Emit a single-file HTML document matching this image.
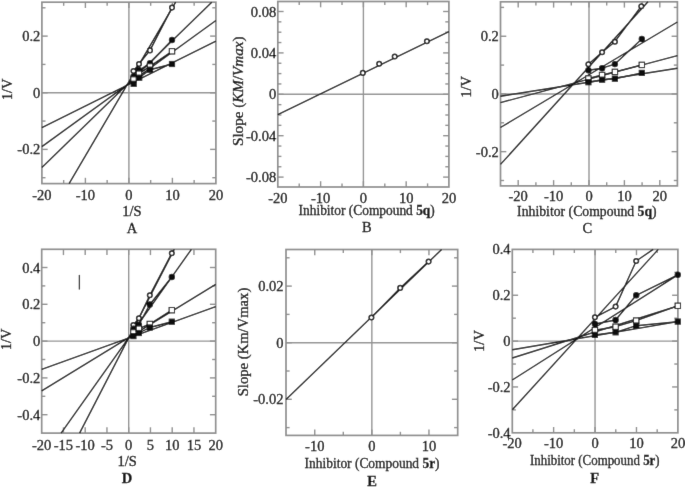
<!DOCTYPE html>
<html><head><meta charset="utf-8"><style>
html,body{margin:0;padding:0;background:#fff;}
svg{display:block;}
text{font-family:"Liberation Serif",serif;fill:#000;stroke:#000;stroke-width:0.3px;}
</style></head><body>
<svg width="685" height="487" viewBox="0 0 685 487">
<defs><filter id="bl" x="0" y="0" width="100%" height="100%"><feConvolveMatrix order="3" kernelMatrix="0.00524 0.06192 0.00524 0.06192 0.73137 0.06192 0.00524 0.06192 0.00524" edgeMode="duplicate"/></filter></defs>
<rect width="685" height="487" fill="#fff"/>
<g filter="url(#bl)">
<rect width="685" height="487" fill="#fff"/>
<line x1="41.90" y1="92.75" x2="215.90" y2="92.75" stroke="#939393" stroke-width="1.4"/>
<line x1="128.90" y1="2.20" x2="128.90" y2="183.60" stroke="#939393" stroke-width="1.4"/>
<line x1="63.65" y1="183.60" x2="63.65" y2="180.00" stroke="#8e8e8e" stroke-width="1.4"/>
<line x1="63.65" y1="2.20" x2="63.65" y2="5.80" stroke="#8e8e8e" stroke-width="1.4"/>
<line x1="107.15" y1="183.60" x2="107.15" y2="180.00" stroke="#8e8e8e" stroke-width="1.4"/>
<line x1="107.15" y1="2.20" x2="107.15" y2="5.80" stroke="#8e8e8e" stroke-width="1.4"/>
<line x1="150.65" y1="183.60" x2="150.65" y2="180.00" stroke="#8e8e8e" stroke-width="1.4"/>
<line x1="150.65" y1="2.20" x2="150.65" y2="5.80" stroke="#8e8e8e" stroke-width="1.4"/>
<line x1="194.15" y1="183.60" x2="194.15" y2="180.00" stroke="#8e8e8e" stroke-width="1.4"/>
<line x1="194.15" y1="2.20" x2="194.15" y2="5.80" stroke="#8e8e8e" stroke-width="1.4"/>
<line x1="85.40" y1="183.60" x2="85.40" y2="177.80" stroke="#8e8e8e" stroke-width="1.4"/>
<line x1="85.40" y1="2.20" x2="85.40" y2="8.00" stroke="#8e8e8e" stroke-width="1.4"/>
<line x1="128.90" y1="183.60" x2="128.90" y2="177.80" stroke="#8e8e8e" stroke-width="1.4"/>
<line x1="128.90" y1="2.20" x2="128.90" y2="8.00" stroke="#8e8e8e" stroke-width="1.4"/>
<line x1="172.40" y1="183.60" x2="172.40" y2="177.80" stroke="#8e8e8e" stroke-width="1.4"/>
<line x1="172.40" y1="2.20" x2="172.40" y2="8.00" stroke="#8e8e8e" stroke-width="1.4"/>
<line x1="41.90" y1="177.71" x2="45.50" y2="177.71" stroke="#8e8e8e" stroke-width="1.4"/>
<line x1="215.90" y1="177.71" x2="212.30" y2="177.71" stroke="#8e8e8e" stroke-width="1.4"/>
<line x1="41.90" y1="121.07" x2="45.50" y2="121.07" stroke="#8e8e8e" stroke-width="1.4"/>
<line x1="215.90" y1="121.07" x2="212.30" y2="121.07" stroke="#8e8e8e" stroke-width="1.4"/>
<line x1="41.90" y1="64.43" x2="45.50" y2="64.43" stroke="#8e8e8e" stroke-width="1.4"/>
<line x1="215.90" y1="64.43" x2="212.30" y2="64.43" stroke="#8e8e8e" stroke-width="1.4"/>
<line x1="41.90" y1="7.79" x2="45.50" y2="7.79" stroke="#8e8e8e" stroke-width="1.4"/>
<line x1="215.90" y1="7.79" x2="212.30" y2="7.79" stroke="#8e8e8e" stroke-width="1.4"/>
<line x1="41.90" y1="149.39" x2="47.70" y2="149.39" stroke="#8e8e8e" stroke-width="1.4"/>
<line x1="215.90" y1="149.39" x2="210.10" y2="149.39" stroke="#8e8e8e" stroke-width="1.4"/>
<line x1="41.90" y1="92.75" x2="47.70" y2="92.75" stroke="#8e8e8e" stroke-width="1.4"/>
<line x1="215.90" y1="92.75" x2="210.10" y2="92.75" stroke="#8e8e8e" stroke-width="1.4"/>
<line x1="41.90" y1="36.11" x2="47.70" y2="36.11" stroke="#8e8e8e" stroke-width="1.4"/>
<line x1="215.90" y1="36.11" x2="210.10" y2="36.11" stroke="#8e8e8e" stroke-width="1.4"/>
<rect x="41.9" y="2.2" width="174.00" height="181.40" fill="none" stroke="#8e8e8e" stroke-width="1.7"/>
<line x1="69.08" y1="183.60" x2="175.67" y2="2.20" stroke="#141414" stroke-width="1.4"/>
<line x1="41.90" y1="167.51" x2="211.75" y2="2.20" stroke="#141414" stroke-width="1.4"/>
<line x1="41.90" y1="146.56" x2="215.90" y2="20.48" stroke="#141414" stroke-width="1.4"/>
<line x1="41.90" y1="127.56" x2="215.90" y2="41.01" stroke="#141414" stroke-width="1.4"/>
<polyline points="133.50,71.00 139.00,64.00 150.00,50.40 172.00,7.60" fill="none" stroke="#141414" stroke-width="1.4" stroke-linejoin="round"/>
<polyline points="133.50,76.50 139.20,70.30 150.00,63.10 172.00,40.00" fill="none" stroke="#141414" stroke-width="1.4" stroke-linejoin="round"/>
<polyline points="133.50,79.50 139.00,73.70 150.00,66.40 172.00,51.30" fill="none" stroke="#141414" stroke-width="1.4" stroke-linejoin="round"/>
<polyline points="133.70,83.80 139.20,77.70 150.00,69.70 172.00,64.00" fill="none" stroke="#141414" stroke-width="1.4" stroke-linejoin="round"/>
<circle cx="133.50" cy="71.00" r="2.3" fill="#fff" stroke="#141414" stroke-width="1.5"/>
<circle cx="139.00" cy="64.00" r="2.3" fill="#fff" stroke="#141414" stroke-width="1.5"/>
<circle cx="150.00" cy="50.40" r="2.3" fill="#fff" stroke="#141414" stroke-width="1.5"/>
<circle cx="172.00" cy="7.60" r="2.3" fill="#fff" stroke="#141414" stroke-width="1.5"/>
<circle cx="133.50" cy="76.50" r="3.2" fill="#111"/>
<circle cx="139.20" cy="70.30" r="3.2" fill="#111"/>
<circle cx="150.00" cy="63.10" r="3.2" fill="#111"/>
<circle cx="172.00" cy="40.00" r="3.2" fill="#111"/>
<rect x="130.80" y="76.80" width="5.40" height="5.40" fill="#fff" stroke="#141414" stroke-width="1.1"/>
<rect x="136.30" y="71.00" width="5.40" height="5.40" fill="#fff" stroke="#141414" stroke-width="1.1"/>
<rect x="147.30" y="63.70" width="5.40" height="5.40" fill="#fff" stroke="#141414" stroke-width="1.1"/>
<rect x="169.30" y="48.60" width="5.40" height="5.40" fill="#fff" stroke="#141414" stroke-width="1.1"/>
<rect x="130.60" y="80.70" width="6.20" height="6.20" fill="#111"/>
<rect x="136.10" y="74.60" width="6.20" height="6.20" fill="#111"/>
<rect x="146.90" y="66.60" width="6.20" height="6.20" fill="#111"/>
<rect x="168.90" y="60.90" width="6.20" height="6.20" fill="#111"/>
<text x="40.30" y="41.11" text-anchor="end" font-size="14.5" font-weight="normal" >0.2</text>
<text x="40.30" y="97.75" text-anchor="end" font-size="14.5" font-weight="normal" >0</text>
<text x="40.30" y="154.39" text-anchor="end" font-size="14.5" font-weight="normal" >-0.2</text>
<text x="41.90" y="199.80" text-anchor="middle" font-size="14.5" font-weight="normal" >-20</text>
<text x="85.40" y="199.80" text-anchor="middle" font-size="14.5" font-weight="normal" >-10</text>
<text x="128.90" y="199.80" text-anchor="middle" font-size="14.5" font-weight="normal" >0</text>
<text x="172.40" y="199.80" text-anchor="middle" font-size="14.5" font-weight="normal" >10</text>
<text x="215.90" y="199.80" text-anchor="middle" font-size="14.5" font-weight="normal" >20</text>
<text x="132.00" y="215.80" text-anchor="middle" font-size="14.5" font-weight="normal" >1/S</text>
<text x="132.00" y="233.40" text-anchor="middle" font-size="14.5" font-weight="normal" >A</text>
<text x="0.00" y="0.00" text-anchor="middle" font-size="14.5" font-weight="normal" transform="translate(11.6,89.3) rotate(-90)">1/V</text>
<line x1="277.80" y1="94.30" x2="448.90" y2="94.30" stroke="#939393" stroke-width="1.4"/>
<line x1="363.40" y1="1.50" x2="363.40" y2="187.00" stroke="#939393" stroke-width="1.4"/>
<line x1="299.23" y1="187.00" x2="299.23" y2="183.40" stroke="#8e8e8e" stroke-width="1.4"/>
<line x1="299.23" y1="1.50" x2="299.23" y2="5.10" stroke="#8e8e8e" stroke-width="1.4"/>
<line x1="342.01" y1="187.00" x2="342.01" y2="183.40" stroke="#8e8e8e" stroke-width="1.4"/>
<line x1="342.01" y1="1.50" x2="342.01" y2="5.10" stroke="#8e8e8e" stroke-width="1.4"/>
<line x1="384.79" y1="187.00" x2="384.79" y2="183.40" stroke="#8e8e8e" stroke-width="1.4"/>
<line x1="384.79" y1="1.50" x2="384.79" y2="5.10" stroke="#8e8e8e" stroke-width="1.4"/>
<line x1="427.57" y1="187.00" x2="427.57" y2="183.40" stroke="#8e8e8e" stroke-width="1.4"/>
<line x1="427.57" y1="1.50" x2="427.57" y2="5.10" stroke="#8e8e8e" stroke-width="1.4"/>
<line x1="320.62" y1="187.00" x2="320.62" y2="181.20" stroke="#8e8e8e" stroke-width="1.4"/>
<line x1="320.62" y1="1.50" x2="320.62" y2="7.30" stroke="#8e8e8e" stroke-width="1.4"/>
<line x1="363.40" y1="187.00" x2="363.40" y2="181.20" stroke="#8e8e8e" stroke-width="1.4"/>
<line x1="363.40" y1="1.50" x2="363.40" y2="7.30" stroke="#8e8e8e" stroke-width="1.4"/>
<line x1="406.18" y1="187.00" x2="406.18" y2="181.20" stroke="#8e8e8e" stroke-width="1.4"/>
<line x1="406.18" y1="1.50" x2="406.18" y2="7.30" stroke="#8e8e8e" stroke-width="1.4"/>
<line x1="277.80" y1="166.75" x2="281.40" y2="166.75" stroke="#8e8e8e" stroke-width="1.4"/>
<line x1="448.90" y1="166.75" x2="445.30" y2="166.75" stroke="#8e8e8e" stroke-width="1.4"/>
<line x1="277.80" y1="156.40" x2="281.40" y2="156.40" stroke="#8e8e8e" stroke-width="1.4"/>
<line x1="448.90" y1="156.40" x2="445.30" y2="156.40" stroke="#8e8e8e" stroke-width="1.4"/>
<line x1="277.80" y1="146.05" x2="281.40" y2="146.05" stroke="#8e8e8e" stroke-width="1.4"/>
<line x1="448.90" y1="146.05" x2="445.30" y2="146.05" stroke="#8e8e8e" stroke-width="1.4"/>
<line x1="277.80" y1="125.35" x2="281.40" y2="125.35" stroke="#8e8e8e" stroke-width="1.4"/>
<line x1="448.90" y1="125.35" x2="445.30" y2="125.35" stroke="#8e8e8e" stroke-width="1.4"/>
<line x1="277.80" y1="115.00" x2="281.40" y2="115.00" stroke="#8e8e8e" stroke-width="1.4"/>
<line x1="448.90" y1="115.00" x2="445.30" y2="115.00" stroke="#8e8e8e" stroke-width="1.4"/>
<line x1="277.80" y1="104.65" x2="281.40" y2="104.65" stroke="#8e8e8e" stroke-width="1.4"/>
<line x1="448.90" y1="104.65" x2="445.30" y2="104.65" stroke="#8e8e8e" stroke-width="1.4"/>
<line x1="277.80" y1="83.95" x2="281.40" y2="83.95" stroke="#8e8e8e" stroke-width="1.4"/>
<line x1="448.90" y1="83.95" x2="445.30" y2="83.95" stroke="#8e8e8e" stroke-width="1.4"/>
<line x1="277.80" y1="73.60" x2="281.40" y2="73.60" stroke="#8e8e8e" stroke-width="1.4"/>
<line x1="448.90" y1="73.60" x2="445.30" y2="73.60" stroke="#8e8e8e" stroke-width="1.4"/>
<line x1="277.80" y1="63.25" x2="281.40" y2="63.25" stroke="#8e8e8e" stroke-width="1.4"/>
<line x1="448.90" y1="63.25" x2="445.30" y2="63.25" stroke="#8e8e8e" stroke-width="1.4"/>
<line x1="277.80" y1="42.55" x2="281.40" y2="42.55" stroke="#8e8e8e" stroke-width="1.4"/>
<line x1="448.90" y1="42.55" x2="445.30" y2="42.55" stroke="#8e8e8e" stroke-width="1.4"/>
<line x1="277.80" y1="32.20" x2="281.40" y2="32.20" stroke="#8e8e8e" stroke-width="1.4"/>
<line x1="448.90" y1="32.20" x2="445.30" y2="32.20" stroke="#8e8e8e" stroke-width="1.4"/>
<line x1="277.80" y1="21.85" x2="281.40" y2="21.85" stroke="#8e8e8e" stroke-width="1.4"/>
<line x1="448.90" y1="21.85" x2="445.30" y2="21.85" stroke="#8e8e8e" stroke-width="1.4"/>
<line x1="277.80" y1="177.10" x2="283.60" y2="177.10" stroke="#8e8e8e" stroke-width="1.4"/>
<line x1="448.90" y1="177.10" x2="443.10" y2="177.10" stroke="#8e8e8e" stroke-width="1.4"/>
<line x1="277.80" y1="135.70" x2="283.60" y2="135.70" stroke="#8e8e8e" stroke-width="1.4"/>
<line x1="448.90" y1="135.70" x2="443.10" y2="135.70" stroke="#8e8e8e" stroke-width="1.4"/>
<line x1="277.80" y1="94.30" x2="283.60" y2="94.30" stroke="#8e8e8e" stroke-width="1.4"/>
<line x1="448.90" y1="94.30" x2="443.10" y2="94.30" stroke="#8e8e8e" stroke-width="1.4"/>
<line x1="277.80" y1="52.90" x2="283.60" y2="52.90" stroke="#8e8e8e" stroke-width="1.4"/>
<line x1="448.90" y1="52.90" x2="443.10" y2="52.90" stroke="#8e8e8e" stroke-width="1.4"/>
<line x1="277.80" y1="11.50" x2="283.60" y2="11.50" stroke="#8e8e8e" stroke-width="1.4"/>
<line x1="448.90" y1="11.50" x2="443.10" y2="11.50" stroke="#8e8e8e" stroke-width="1.4"/>
<rect x="277.8" y="1.5" width="171.10" height="185.50" fill="none" stroke="#8e8e8e" stroke-width="1.7"/>
<line x1="277.80" y1="114.70" x2="448.90" y2="31.60" stroke="#141414" stroke-width="1.4"/>
<circle cx="362.80" cy="72.90" r="2.3" fill="#fff" stroke="#141414" stroke-width="1.5"/>
<circle cx="379.20" cy="63.70" r="2.3" fill="#fff" stroke="#141414" stroke-width="1.5"/>
<circle cx="394.70" cy="56.50" r="2.3" fill="#fff" stroke="#141414" stroke-width="1.5"/>
<circle cx="426.90" cy="41.20" r="2.3" fill="#fff" stroke="#141414" stroke-width="1.5"/>
<text x="276.20" y="16.50" text-anchor="end" font-size="14.5" font-weight="normal" >0.08</text>
<text x="276.20" y="57.90" text-anchor="end" font-size="14.5" font-weight="normal" >0.04</text>
<text x="276.20" y="99.30" text-anchor="end" font-size="14.5" font-weight="normal" >0</text>
<text x="276.20" y="140.70" text-anchor="end" font-size="14.5" font-weight="normal" >-0.04</text>
<text x="276.20" y="182.10" text-anchor="end" font-size="14.5" font-weight="normal" >-0.08</text>
<text x="277.84" y="202.90" text-anchor="middle" font-size="14.5" font-weight="normal" >-20</text>
<text x="320.62" y="202.90" text-anchor="middle" font-size="14.5" font-weight="normal" >-10</text>
<text x="363.40" y="202.90" text-anchor="middle" font-size="14.5" font-weight="normal" >0</text>
<text x="406.18" y="202.90" text-anchor="middle" font-size="14.5" font-weight="normal" >10</text>
<text x="448.96" y="202.90" text-anchor="middle" font-size="14.5" font-weight="normal" >20</text>
<text x="298.6" y="215" textLength="136.2" lengthAdjust="spacingAndGlyphs" font-size="14.5">Inhibitor (Compound <tspan font-weight="bold">5q</tspan>)</text>
<text x="366.90" y="232.00" text-anchor="middle" font-size="14.5" font-weight="normal" >B</text>
<text transform="translate(242.7,146) rotate(-90)" textLength="109.6" lengthAdjust="spacingAndGlyphs" font-size="14.5">Slope (<tspan font-style="italic">KM</tspan>/<tspan font-style="italic">Vmax</tspan>)</text>
<line x1="500.50" y1="93.95" x2="677.40" y2="93.95" stroke="#939393" stroke-width="1.4"/>
<line x1="589.00" y1="1.80" x2="589.00" y2="185.90" stroke="#939393" stroke-width="1.4"/>
<line x1="535.90" y1="185.90" x2="535.90" y2="182.30" stroke="#8e8e8e" stroke-width="1.4"/>
<line x1="535.90" y1="1.80" x2="535.90" y2="5.40" stroke="#8e8e8e" stroke-width="1.4"/>
<line x1="571.30" y1="185.90" x2="571.30" y2="182.30" stroke="#8e8e8e" stroke-width="1.4"/>
<line x1="571.30" y1="1.80" x2="571.30" y2="5.40" stroke="#8e8e8e" stroke-width="1.4"/>
<line x1="606.70" y1="185.90" x2="606.70" y2="182.30" stroke="#8e8e8e" stroke-width="1.4"/>
<line x1="606.70" y1="1.80" x2="606.70" y2="5.40" stroke="#8e8e8e" stroke-width="1.4"/>
<line x1="642.10" y1="185.90" x2="642.10" y2="182.30" stroke="#8e8e8e" stroke-width="1.4"/>
<line x1="642.10" y1="1.80" x2="642.10" y2="5.40" stroke="#8e8e8e" stroke-width="1.4"/>
<line x1="518.20" y1="185.90" x2="518.20" y2="180.10" stroke="#8e8e8e" stroke-width="1.4"/>
<line x1="518.20" y1="1.80" x2="518.20" y2="7.60" stroke="#8e8e8e" stroke-width="1.4"/>
<line x1="553.60" y1="185.90" x2="553.60" y2="180.10" stroke="#8e8e8e" stroke-width="1.4"/>
<line x1="553.60" y1="1.80" x2="553.60" y2="7.60" stroke="#8e8e8e" stroke-width="1.4"/>
<line x1="589.00" y1="185.90" x2="589.00" y2="180.10" stroke="#8e8e8e" stroke-width="1.4"/>
<line x1="589.00" y1="1.80" x2="589.00" y2="7.60" stroke="#8e8e8e" stroke-width="1.4"/>
<line x1="624.40" y1="185.90" x2="624.40" y2="180.10" stroke="#8e8e8e" stroke-width="1.4"/>
<line x1="624.40" y1="1.80" x2="624.40" y2="7.60" stroke="#8e8e8e" stroke-width="1.4"/>
<line x1="659.80" y1="185.90" x2="659.80" y2="180.10" stroke="#8e8e8e" stroke-width="1.4"/>
<line x1="659.80" y1="1.80" x2="659.80" y2="7.60" stroke="#8e8e8e" stroke-width="1.4"/>
<line x1="500.50" y1="180.50" x2="504.10" y2="180.50" stroke="#8e8e8e" stroke-width="1.4"/>
<line x1="677.40" y1="180.50" x2="673.80" y2="180.50" stroke="#8e8e8e" stroke-width="1.4"/>
<line x1="500.50" y1="122.80" x2="504.10" y2="122.80" stroke="#8e8e8e" stroke-width="1.4"/>
<line x1="677.40" y1="122.80" x2="673.80" y2="122.80" stroke="#8e8e8e" stroke-width="1.4"/>
<line x1="500.50" y1="65.10" x2="504.10" y2="65.10" stroke="#8e8e8e" stroke-width="1.4"/>
<line x1="677.40" y1="65.10" x2="673.80" y2="65.10" stroke="#8e8e8e" stroke-width="1.4"/>
<line x1="500.50" y1="7.40" x2="504.10" y2="7.40" stroke="#8e8e8e" stroke-width="1.4"/>
<line x1="677.40" y1="7.40" x2="673.80" y2="7.40" stroke="#8e8e8e" stroke-width="1.4"/>
<line x1="500.50" y1="151.65" x2="506.30" y2="151.65" stroke="#8e8e8e" stroke-width="1.4"/>
<line x1="677.40" y1="151.65" x2="671.60" y2="151.65" stroke="#8e8e8e" stroke-width="1.4"/>
<line x1="500.50" y1="93.95" x2="506.30" y2="93.95" stroke="#8e8e8e" stroke-width="1.4"/>
<line x1="677.40" y1="93.95" x2="671.60" y2="93.95" stroke="#8e8e8e" stroke-width="1.4"/>
<line x1="500.50" y1="36.25" x2="506.30" y2="36.25" stroke="#8e8e8e" stroke-width="1.4"/>
<line x1="677.40" y1="36.25" x2="671.60" y2="36.25" stroke="#8e8e8e" stroke-width="1.4"/>
<rect x="500.5" y="1.8" width="176.90" height="184.10" fill="none" stroke="#8e8e8e" stroke-width="1.7"/>
<line x1="500.50" y1="164.40" x2="648.00" y2="1.80" stroke="#141414" stroke-width="1.4"/>
<line x1="500.50" y1="127.50" x2="677.40" y2="22.00" stroke="#141414" stroke-width="1.4"/>
<line x1="500.50" y1="102.60" x2="677.40" y2="55.60" stroke="#141414" stroke-width="1.4"/>
<line x1="500.50" y1="96.20" x2="677.40" y2="68.30" stroke="#141414" stroke-width="1.4"/>
<polyline points="588.40,64.30 602.10,52.20 614.90,41.70 641.30,6.20" fill="none" stroke="#141414" stroke-width="1.4" stroke-linejoin="round"/>
<polyline points="588.40,70.30 602.10,68.20 614.90,64.10 641.80,39.00" fill="none" stroke="#141414" stroke-width="1.4" stroke-linejoin="round"/>
<polyline points="588.40,78.50 602.10,75.00 614.90,71.90 641.80,64.90" fill="none" stroke="#141414" stroke-width="1.4" stroke-linejoin="round"/>
<polyline points="588.40,82.20 602.10,79.70 614.90,78.70 641.80,72.90" fill="none" stroke="#141414" stroke-width="1.4" stroke-linejoin="round"/>
<circle cx="588.40" cy="64.30" r="2.3" fill="#fff" stroke="#141414" stroke-width="1.5"/>
<circle cx="602.10" cy="52.20" r="2.3" fill="#fff" stroke="#141414" stroke-width="1.5"/>
<circle cx="614.90" cy="41.70" r="2.3" fill="#fff" stroke="#141414" stroke-width="1.5"/>
<circle cx="641.30" cy="6.20" r="2.3" fill="#fff" stroke="#141414" stroke-width="1.5"/>
<circle cx="588.40" cy="70.30" r="3.2" fill="#111"/>
<circle cx="602.10" cy="68.20" r="3.2" fill="#111"/>
<circle cx="614.90" cy="64.10" r="3.2" fill="#111"/>
<circle cx="641.80" cy="39.00" r="3.2" fill="#111"/>
<rect x="585.70" y="75.80" width="5.40" height="5.40" fill="#fff" stroke="#141414" stroke-width="1.1"/>
<rect x="599.40" y="72.30" width="5.40" height="5.40" fill="#fff" stroke="#141414" stroke-width="1.1"/>
<rect x="612.20" y="69.20" width="5.40" height="5.40" fill="#fff" stroke="#141414" stroke-width="1.1"/>
<rect x="639.10" y="62.20" width="5.40" height="5.40" fill="#fff" stroke="#141414" stroke-width="1.1"/>
<rect x="585.30" y="79.10" width="6.20" height="6.20" fill="#111"/>
<rect x="599.00" y="76.60" width="6.20" height="6.20" fill="#111"/>
<rect x="611.80" y="75.60" width="6.20" height="6.20" fill="#111"/>
<rect x="638.70" y="69.80" width="6.20" height="6.20" fill="#111"/>
<text x="498.80" y="41.25" text-anchor="end" font-size="14.5" font-weight="normal" >0.2</text>
<text x="498.80" y="98.95" text-anchor="end" font-size="14.5" font-weight="normal" >0</text>
<text x="498.80" y="156.65" text-anchor="end" font-size="14.5" font-weight="normal" >-0.2</text>
<text x="518.20" y="200.50" text-anchor="middle" font-size="14.5" font-weight="normal" >-20</text>
<text x="553.60" y="200.50" text-anchor="middle" font-size="14.5" font-weight="normal" >-10</text>
<text x="589.00" y="200.50" text-anchor="middle" font-size="14.5" font-weight="normal" >0</text>
<text x="624.40" y="200.50" text-anchor="middle" font-size="14.5" font-weight="normal" >10</text>
<text x="659.80" y="200.50" text-anchor="middle" font-size="14.5" font-weight="normal" >20</text>
<text x="517.1" y="216.3" textLength="139.6" lengthAdjust="spacingAndGlyphs" font-size="14.5">Inhibitor (Compound <tspan font-weight="bold">5q</tspan>)</text>
<text x="587.30" y="232.70" text-anchor="middle" font-size="14.5" font-weight="normal" >C</text>
<text x="0.00" y="0.00" text-anchor="middle" font-size="14.5" font-weight="normal" transform="translate(470.5,86.9) rotate(-90)">1/V</text>
<line x1="41.70" y1="341.10" x2="215.70" y2="341.10" stroke="#939393" stroke-width="1.4"/>
<line x1="128.70" y1="249.30" x2="128.70" y2="433.10" stroke="#939393" stroke-width="1.4"/>
<line x1="63.45" y1="433.10" x2="63.45" y2="427.30" stroke="#8e8e8e" stroke-width="1.4"/>
<line x1="63.45" y1="249.30" x2="63.45" y2="255.10" stroke="#8e8e8e" stroke-width="1.4"/>
<line x1="85.20" y1="433.10" x2="85.20" y2="427.30" stroke="#8e8e8e" stroke-width="1.4"/>
<line x1="85.20" y1="249.30" x2="85.20" y2="255.10" stroke="#8e8e8e" stroke-width="1.4"/>
<line x1="106.95" y1="433.10" x2="106.95" y2="427.30" stroke="#8e8e8e" stroke-width="1.4"/>
<line x1="106.95" y1="249.30" x2="106.95" y2="255.10" stroke="#8e8e8e" stroke-width="1.4"/>
<line x1="128.70" y1="433.10" x2="128.70" y2="427.30" stroke="#8e8e8e" stroke-width="1.4"/>
<line x1="128.70" y1="249.30" x2="128.70" y2="255.10" stroke="#8e8e8e" stroke-width="1.4"/>
<line x1="150.45" y1="433.10" x2="150.45" y2="427.30" stroke="#8e8e8e" stroke-width="1.4"/>
<line x1="150.45" y1="249.30" x2="150.45" y2="255.10" stroke="#8e8e8e" stroke-width="1.4"/>
<line x1="172.20" y1="433.10" x2="172.20" y2="427.30" stroke="#8e8e8e" stroke-width="1.4"/>
<line x1="172.20" y1="249.30" x2="172.20" y2="255.10" stroke="#8e8e8e" stroke-width="1.4"/>
<line x1="193.95" y1="433.10" x2="193.95" y2="427.30" stroke="#8e8e8e" stroke-width="1.4"/>
<line x1="193.95" y1="249.30" x2="193.95" y2="255.10" stroke="#8e8e8e" stroke-width="1.4"/>
<line x1="41.70" y1="396.30" x2="45.30" y2="396.30" stroke="#8e8e8e" stroke-width="1.4"/>
<line x1="215.70" y1="396.30" x2="212.10" y2="396.30" stroke="#8e8e8e" stroke-width="1.4"/>
<line x1="41.70" y1="359.50" x2="45.30" y2="359.50" stroke="#8e8e8e" stroke-width="1.4"/>
<line x1="215.70" y1="359.50" x2="212.10" y2="359.50" stroke="#8e8e8e" stroke-width="1.4"/>
<line x1="41.70" y1="322.70" x2="45.30" y2="322.70" stroke="#8e8e8e" stroke-width="1.4"/>
<line x1="215.70" y1="322.70" x2="212.10" y2="322.70" stroke="#8e8e8e" stroke-width="1.4"/>
<line x1="41.70" y1="285.90" x2="45.30" y2="285.90" stroke="#8e8e8e" stroke-width="1.4"/>
<line x1="215.70" y1="285.90" x2="212.10" y2="285.90" stroke="#8e8e8e" stroke-width="1.4"/>
<line x1="41.70" y1="414.70" x2="47.50" y2="414.70" stroke="#8e8e8e" stroke-width="1.4"/>
<line x1="215.70" y1="414.70" x2="209.90" y2="414.70" stroke="#8e8e8e" stroke-width="1.4"/>
<line x1="41.70" y1="377.90" x2="47.50" y2="377.90" stroke="#8e8e8e" stroke-width="1.4"/>
<line x1="215.70" y1="377.90" x2="209.90" y2="377.90" stroke="#8e8e8e" stroke-width="1.4"/>
<line x1="41.70" y1="341.10" x2="47.50" y2="341.10" stroke="#8e8e8e" stroke-width="1.4"/>
<line x1="215.70" y1="341.10" x2="209.90" y2="341.10" stroke="#8e8e8e" stroke-width="1.4"/>
<line x1="41.70" y1="304.30" x2="47.50" y2="304.30" stroke="#8e8e8e" stroke-width="1.4"/>
<line x1="215.70" y1="304.30" x2="209.90" y2="304.30" stroke="#8e8e8e" stroke-width="1.4"/>
<line x1="41.70" y1="267.50" x2="47.50" y2="267.50" stroke="#8e8e8e" stroke-width="1.4"/>
<line x1="215.70" y1="267.50" x2="209.90" y2="267.50" stroke="#8e8e8e" stroke-width="1.4"/>
<rect x="41.7" y="249.3" width="174.00" height="183.80" fill="none" stroke="#8e8e8e" stroke-width="1.7"/>
<line x1="41.70" y1="369.40" x2="215.70" y2="306.60" stroke="#141414" stroke-width="1.4"/>
<line x1="41.70" y1="390.90" x2="215.70" y2="284.30" stroke="#141414" stroke-width="1.4"/>
<line x1="61.10" y1="433.10" x2="191.40" y2="249.30" stroke="#141414" stroke-width="1.4"/>
<line x1="79.60" y1="433.10" x2="174.30" y2="249.30" stroke="#141414" stroke-width="1.4"/>
<polyline points="133.40,325.00 138.90,318.30 149.80,295.30 171.80,253.20" fill="none" stroke="#141414" stroke-width="1.4" stroke-linejoin="round"/>
<polyline points="133.40,328.70 138.90,324.70 149.80,304.50 171.80,277.00" fill="none" stroke="#141414" stroke-width="1.4" stroke-linejoin="round"/>
<polyline points="133.40,332.40 138.90,328.70 149.80,324.00 171.80,310.20" fill="none" stroke="#141414" stroke-width="1.4" stroke-linejoin="round"/>
<polyline points="133.40,336.10 138.90,333.00 149.80,327.50 171.80,321.70" fill="none" stroke="#141414" stroke-width="1.4" stroke-linejoin="round"/>
<circle cx="133.40" cy="325.00" r="2.3" fill="#fff" stroke="#141414" stroke-width="1.5"/>
<circle cx="138.90" cy="318.30" r="2.3" fill="#fff" stroke="#141414" stroke-width="1.5"/>
<circle cx="149.80" cy="295.30" r="2.3" fill="#fff" stroke="#141414" stroke-width="1.5"/>
<circle cx="171.80" cy="253.20" r="2.3" fill="#fff" stroke="#141414" stroke-width="1.5"/>
<circle cx="133.40" cy="328.70" r="3.2" fill="#111"/>
<circle cx="138.90" cy="324.70" r="3.2" fill="#111"/>
<circle cx="149.80" cy="304.50" r="3.2" fill="#111"/>
<circle cx="171.80" cy="277.00" r="3.2" fill="#111"/>
<rect x="130.70" y="329.70" width="5.40" height="5.40" fill="#fff" stroke="#141414" stroke-width="1.1"/>
<rect x="136.20" y="326.00" width="5.40" height="5.40" fill="#fff" stroke="#141414" stroke-width="1.1"/>
<rect x="147.10" y="321.30" width="5.40" height="5.40" fill="#fff" stroke="#141414" stroke-width="1.1"/>
<rect x="169.10" y="307.50" width="5.40" height="5.40" fill="#fff" stroke="#141414" stroke-width="1.1"/>
<rect x="130.30" y="333.00" width="6.20" height="6.20" fill="#111"/>
<rect x="135.80" y="329.90" width="6.20" height="6.20" fill="#111"/>
<rect x="146.70" y="324.40" width="6.20" height="6.20" fill="#111"/>
<rect x="168.70" y="318.60" width="6.20" height="6.20" fill="#111"/>
<text x="40.30" y="272.50" text-anchor="end" font-size="14.5" font-weight="normal" >0.4</text>
<text x="40.30" y="309.30" text-anchor="end" font-size="14.5" font-weight="normal" >0.2</text>
<text x="40.30" y="346.10" text-anchor="end" font-size="14.5" font-weight="normal" >0</text>
<text x="40.30" y="382.90" text-anchor="end" font-size="14.5" font-weight="normal" >-0.2</text>
<text x="40.30" y="419.70" text-anchor="end" font-size="14.5" font-weight="normal" >-0.4</text>
<text x="41.70" y="449.50" text-anchor="middle" font-size="14.5" font-weight="normal" >-20</text>
<text x="63.45" y="449.50" text-anchor="middle" font-size="14.5" font-weight="normal" >-15</text>
<text x="85.20" y="449.50" text-anchor="middle" font-size="14.5" font-weight="normal" >-10</text>
<text x="106.95" y="449.50" text-anchor="middle" font-size="14.5" font-weight="normal" >-5</text>
<text x="128.70" y="449.50" text-anchor="middle" font-size="14.5" font-weight="normal" >0</text>
<text x="150.45" y="449.50" text-anchor="middle" font-size="14.5" font-weight="normal" >5</text>
<text x="172.20" y="449.50" text-anchor="middle" font-size="14.5" font-weight="normal" >10</text>
<text x="193.95" y="449.50" text-anchor="middle" font-size="14.5" font-weight="normal" >15</text>
<text x="215.70" y="449.50" text-anchor="middle" font-size="14.5" font-weight="normal" >20</text>
<text x="127.20" y="465.80" text-anchor="middle" font-size="14.5" font-weight="normal" >1/S</text>
<text x="126.90" y="483.20" text-anchor="middle" font-size="14.5" font-weight="bold" >D</text>
<text x="0.00" y="0.00" text-anchor="middle" font-size="14.5" font-weight="normal" transform="translate(11.2,339.3) rotate(-90)">1/V</text>
<line x1="79.40" y1="274.90" x2="79.40" y2="289.50" stroke="#1a1a1a" stroke-width="1.3"/>
<line x1="286.00" y1="342.70" x2="457.70" y2="342.70" stroke="#939393" stroke-width="1.4"/>
<line x1="371.85" y1="249.50" x2="371.85" y2="435.40" stroke="#939393" stroke-width="1.4"/>
<line x1="343.30" y1="435.40" x2="343.30" y2="431.80" stroke="#8e8e8e" stroke-width="1.4"/>
<line x1="343.30" y1="249.50" x2="343.30" y2="253.10" stroke="#8e8e8e" stroke-width="1.4"/>
<line x1="400.40" y1="435.40" x2="400.40" y2="431.80" stroke="#8e8e8e" stroke-width="1.4"/>
<line x1="400.40" y1="249.50" x2="400.40" y2="253.10" stroke="#8e8e8e" stroke-width="1.4"/>
<line x1="314.75" y1="435.40" x2="314.75" y2="429.60" stroke="#8e8e8e" stroke-width="1.4"/>
<line x1="314.75" y1="249.50" x2="314.75" y2="255.30" stroke="#8e8e8e" stroke-width="1.4"/>
<line x1="371.85" y1="435.40" x2="371.85" y2="429.60" stroke="#8e8e8e" stroke-width="1.4"/>
<line x1="371.85" y1="249.50" x2="371.85" y2="255.30" stroke="#8e8e8e" stroke-width="1.4"/>
<line x1="428.95" y1="435.40" x2="428.95" y2="429.60" stroke="#8e8e8e" stroke-width="1.4"/>
<line x1="428.95" y1="249.50" x2="428.95" y2="255.30" stroke="#8e8e8e" stroke-width="1.4"/>
<line x1="286.00" y1="427.60" x2="289.60" y2="427.60" stroke="#8e8e8e" stroke-width="1.4"/>
<line x1="457.70" y1="427.60" x2="454.10" y2="427.60" stroke="#8e8e8e" stroke-width="1.4"/>
<line x1="286.00" y1="371.00" x2="289.60" y2="371.00" stroke="#8e8e8e" stroke-width="1.4"/>
<line x1="457.70" y1="371.00" x2="454.10" y2="371.00" stroke="#8e8e8e" stroke-width="1.4"/>
<line x1="286.00" y1="314.40" x2="289.60" y2="314.40" stroke="#8e8e8e" stroke-width="1.4"/>
<line x1="457.70" y1="314.40" x2="454.10" y2="314.40" stroke="#8e8e8e" stroke-width="1.4"/>
<line x1="286.00" y1="257.80" x2="289.60" y2="257.80" stroke="#8e8e8e" stroke-width="1.4"/>
<line x1="457.70" y1="257.80" x2="454.10" y2="257.80" stroke="#8e8e8e" stroke-width="1.4"/>
<line x1="286.00" y1="399.30" x2="291.80" y2="399.30" stroke="#8e8e8e" stroke-width="1.4"/>
<line x1="457.70" y1="399.30" x2="451.90" y2="399.30" stroke="#8e8e8e" stroke-width="1.4"/>
<line x1="286.00" y1="342.70" x2="291.80" y2="342.70" stroke="#8e8e8e" stroke-width="1.4"/>
<line x1="457.70" y1="342.70" x2="451.90" y2="342.70" stroke="#8e8e8e" stroke-width="1.4"/>
<line x1="286.00" y1="286.10" x2="291.80" y2="286.10" stroke="#8e8e8e" stroke-width="1.4"/>
<line x1="457.70" y1="286.10" x2="451.90" y2="286.10" stroke="#8e8e8e" stroke-width="1.4"/>
<rect x="286" y="249.5" width="171.70" height="185.90" fill="none" stroke="#8e8e8e" stroke-width="1.7"/>
<line x1="286.00" y1="399.40" x2="441.60" y2="249.50" stroke="#141414" stroke-width="1.4"/>
<polyline points="371.40,317.50 400.20,287.90 428.60,261.60" fill="none" stroke="#141414" stroke-width="1.4" stroke-linejoin="round"/>
<circle cx="371.40" cy="317.50" r="2.3" fill="#fff" stroke="#141414" stroke-width="1.5"/>
<circle cx="400.20" cy="287.90" r="2.3" fill="#fff" stroke="#141414" stroke-width="1.5"/>
<circle cx="428.60" cy="261.60" r="2.3" fill="#fff" stroke="#141414" stroke-width="1.5"/>
<text x="283.50" y="291.10" text-anchor="end" font-size="14.5" font-weight="normal" >0.02</text>
<text x="283.50" y="347.70" text-anchor="end" font-size="14.5" font-weight="normal" >0</text>
<text x="283.50" y="404.30" text-anchor="end" font-size="14.5" font-weight="normal" >-0.02</text>
<text x="314.75" y="451.00" text-anchor="middle" font-size="14.5" font-weight="normal" >-10</text>
<text x="371.85" y="451.00" text-anchor="middle" font-size="14.5" font-weight="normal" >0</text>
<text x="428.95" y="451.00" text-anchor="middle" font-size="14.5" font-weight="normal" >10</text>
<text x="304.6" y="468.1" textLength="135" lengthAdjust="spacingAndGlyphs" font-size="14.5">Inhibitor (Compound <tspan font-weight="bold">5r</tspan>)</text>
<text x="372.10" y="486.00" text-anchor="middle" font-size="14.5" font-weight="bold" >E</text>
<text transform="translate(247.8,396.3) rotate(-90)" textLength="108.6" lengthAdjust="spacingAndGlyphs" font-size="14.5">Slope (Km/Vmax)</text>
<line x1="512.30" y1="341.10" x2="677.90" y2="341.10" stroke="#939393" stroke-width="1.4"/>
<line x1="595.05" y1="249.40" x2="595.05" y2="432.80" stroke="#939393" stroke-width="1.4"/>
<line x1="532.91" y1="432.80" x2="532.91" y2="429.20" stroke="#8e8e8e" stroke-width="1.4"/>
<line x1="532.91" y1="249.40" x2="532.91" y2="253.00" stroke="#8e8e8e" stroke-width="1.4"/>
<line x1="574.34" y1="432.80" x2="574.34" y2="429.20" stroke="#8e8e8e" stroke-width="1.4"/>
<line x1="574.34" y1="249.40" x2="574.34" y2="253.00" stroke="#8e8e8e" stroke-width="1.4"/>
<line x1="615.76" y1="432.80" x2="615.76" y2="429.20" stroke="#8e8e8e" stroke-width="1.4"/>
<line x1="615.76" y1="249.40" x2="615.76" y2="253.00" stroke="#8e8e8e" stroke-width="1.4"/>
<line x1="657.19" y1="432.80" x2="657.19" y2="429.20" stroke="#8e8e8e" stroke-width="1.4"/>
<line x1="657.19" y1="249.40" x2="657.19" y2="253.00" stroke="#8e8e8e" stroke-width="1.4"/>
<line x1="553.62" y1="432.80" x2="553.62" y2="427.00" stroke="#8e8e8e" stroke-width="1.4"/>
<line x1="553.62" y1="249.40" x2="553.62" y2="255.20" stroke="#8e8e8e" stroke-width="1.4"/>
<line x1="595.05" y1="432.80" x2="595.05" y2="427.00" stroke="#8e8e8e" stroke-width="1.4"/>
<line x1="595.05" y1="249.40" x2="595.05" y2="255.20" stroke="#8e8e8e" stroke-width="1.4"/>
<line x1="636.47" y1="432.80" x2="636.47" y2="427.00" stroke="#8e8e8e" stroke-width="1.4"/>
<line x1="636.47" y1="249.40" x2="636.47" y2="255.20" stroke="#8e8e8e" stroke-width="1.4"/>
<line x1="512.30" y1="409.88" x2="515.90" y2="409.88" stroke="#8e8e8e" stroke-width="1.4"/>
<line x1="677.90" y1="409.88" x2="674.30" y2="409.88" stroke="#8e8e8e" stroke-width="1.4"/>
<line x1="512.30" y1="364.03" x2="515.90" y2="364.03" stroke="#8e8e8e" stroke-width="1.4"/>
<line x1="677.90" y1="364.03" x2="674.30" y2="364.03" stroke="#8e8e8e" stroke-width="1.4"/>
<line x1="512.30" y1="318.18" x2="515.90" y2="318.18" stroke="#8e8e8e" stroke-width="1.4"/>
<line x1="677.90" y1="318.18" x2="674.30" y2="318.18" stroke="#8e8e8e" stroke-width="1.4"/>
<line x1="512.30" y1="272.33" x2="515.90" y2="272.33" stroke="#8e8e8e" stroke-width="1.4"/>
<line x1="677.90" y1="272.33" x2="674.30" y2="272.33" stroke="#8e8e8e" stroke-width="1.4"/>
<line x1="512.30" y1="386.95" x2="518.10" y2="386.95" stroke="#8e8e8e" stroke-width="1.4"/>
<line x1="677.90" y1="386.95" x2="672.10" y2="386.95" stroke="#8e8e8e" stroke-width="1.4"/>
<line x1="512.30" y1="341.10" x2="518.10" y2="341.10" stroke="#8e8e8e" stroke-width="1.4"/>
<line x1="677.90" y1="341.10" x2="672.10" y2="341.10" stroke="#8e8e8e" stroke-width="1.4"/>
<line x1="512.30" y1="295.25" x2="518.10" y2="295.25" stroke="#8e8e8e" stroke-width="1.4"/>
<line x1="677.90" y1="295.25" x2="672.10" y2="295.25" stroke="#8e8e8e" stroke-width="1.4"/>
<rect x="512.3" y="249.4" width="165.60" height="183.40" fill="none" stroke="#8e8e8e" stroke-width="1.7"/>
<line x1="512.30" y1="409.80" x2="658.30" y2="249.40" stroke="#141414" stroke-width="1.4"/>
<line x1="512.30" y1="380.00" x2="677.90" y2="274.80" stroke="#141414" stroke-width="1.4"/>
<line x1="512.30" y1="358.00" x2="677.90" y2="305.80" stroke="#141414" stroke-width="1.4"/>
<line x1="512.30" y1="349.80" x2="677.90" y2="321.60" stroke="#141414" stroke-width="1.4"/>
<polyline points="594.90,317.30 615.60,306.60 636.20,261.00 653.20,249.40" fill="none" stroke="#141414" stroke-width="1.4" stroke-linejoin="round"/>
<polyline points="594.90,324.00 615.60,320.00 636.20,295.30 677.80,274.80" fill="none" stroke="#141414" stroke-width="1.4" stroke-linejoin="round"/>
<polyline points="594.90,330.20 615.60,326.70 636.20,320.60 677.80,305.80" fill="none" stroke="#141414" stroke-width="1.4" stroke-linejoin="round"/>
<polyline points="594.90,334.90 615.60,332.30 636.20,325.70 677.80,321.60" fill="none" stroke="#141414" stroke-width="1.4" stroke-linejoin="round"/>
<circle cx="594.90" cy="317.30" r="2.3" fill="#fff" stroke="#141414" stroke-width="1.5"/>
<circle cx="615.60" cy="306.60" r="2.3" fill="#fff" stroke="#141414" stroke-width="1.5"/>
<circle cx="636.20" cy="261.00" r="2.3" fill="#fff" stroke="#141414" stroke-width="1.5"/>
<circle cx="594.90" cy="324.00" r="3.2" fill="#111"/>
<circle cx="615.60" cy="320.00" r="3.2" fill="#111"/>
<circle cx="636.20" cy="295.30" r="3.2" fill="#111"/>
<circle cx="677.80" cy="274.80" r="3.2" fill="#111"/>
<rect x="592.20" y="327.50" width="5.40" height="5.40" fill="#fff" stroke="#141414" stroke-width="1.1"/>
<rect x="612.90" y="324.00" width="5.40" height="5.40" fill="#fff" stroke="#141414" stroke-width="1.1"/>
<rect x="633.50" y="317.90" width="5.40" height="5.40" fill="#fff" stroke="#141414" stroke-width="1.1"/>
<rect x="675.10" y="303.10" width="5.40" height="5.40" fill="#fff" stroke="#141414" stroke-width="1.1"/>
<rect x="591.80" y="331.80" width="6.20" height="6.20" fill="#111"/>
<rect x="612.50" y="329.20" width="6.20" height="6.20" fill="#111"/>
<rect x="633.10" y="322.60" width="6.20" height="6.20" fill="#111"/>
<rect x="674.70" y="318.50" width="6.20" height="6.20" fill="#111"/>
<text x="510.60" y="254.40" text-anchor="end" font-size="14.5" font-weight="normal" >0.4</text>
<text x="510.60" y="300.25" text-anchor="end" font-size="14.5" font-weight="normal" >0.2</text>
<text x="510.60" y="346.10" text-anchor="end" font-size="14.5" font-weight="normal" >0</text>
<text x="510.60" y="391.95" text-anchor="end" font-size="14.5" font-weight="normal" >-0.2</text>
<text x="510.60" y="437.80" text-anchor="end" font-size="14.5" font-weight="normal" >-0.4</text>
<text x="512.20" y="447.90" text-anchor="middle" font-size="14.5" font-weight="normal" >-20</text>
<text x="553.62" y="447.90" text-anchor="middle" font-size="14.5" font-weight="normal" >-10</text>
<text x="595.05" y="447.90" text-anchor="middle" font-size="14.5" font-weight="normal" >0</text>
<text x="636.47" y="447.90" text-anchor="middle" font-size="14.5" font-weight="normal" >10</text>
<text x="677.90" y="447.90" text-anchor="middle" font-size="14.5" font-weight="normal" >20</text>
<text x="530" y="464.9" textLength="129.6" lengthAdjust="spacingAndGlyphs" font-size="14.5">Inhibitor (Compound <tspan font-weight="bold">5r</tspan>)</text>
<text x="594.75" y="482.50" text-anchor="middle" font-size="14.5" font-weight="bold" >F</text>
<text x="0.00" y="0.00" text-anchor="middle" font-size="14.5" font-weight="normal" transform="translate(483.5,341) rotate(-90)">1/V</text>
</g>
</svg>
</body></html>
